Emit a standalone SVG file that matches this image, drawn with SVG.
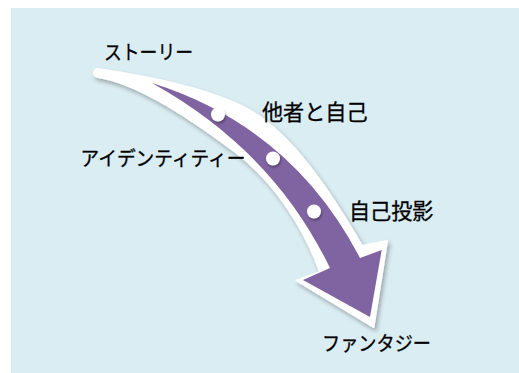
<svg xmlns="http://www.w3.org/2000/svg" width="519" height="373" viewBox="0 0 519 373">
<defs>
<style>
.lbl{font-family:"Noto Sans CJK JP","Noto Sans",sans-serif;fill:#000;stroke:#000;stroke-width:0.3px}
.k{font-size:20px}
.j{font-size:21.5px}
</style>
<filter id="sh" x="-20%" y="-20%" width="150%" height="150%">
<feDropShadow dx="2" dy="3" stdDeviation="2" flood-color="#000" flood-opacity="0.3"/>
</filter>
<filter id="dsh" x="-50%" y="-50%" width="200%" height="200%">
<feDropShadow dx="1" dy="2" stdDeviation="1.2" flood-color="#000" flood-opacity="0.35"/>
</filter>
</defs>
<rect x="11" y="8" width="508" height="365" fill="#DAEDF3"/>
<g id="connectors">
<path id="arrow-outline" filter="url(#sh)" fill="#fff" stroke="#fff" stroke-width="2" stroke-linejoin="round"
 d="M98,69 Q217.5,86.9 260,116.7 C300,144.7 335,200 362,246 L387,241 L373.5,327 L296.5,280.5 L320,272 C306,232 276.7,183.4 236.7,153 Q146.2,84.3 98,77 A4,4 0 0 1 98,69 Z"/>
<path id="arrow" fill="#8064A2" d="M152,83 Q292,127 360,258 L381.7,250 L370,317 L303,280 L330,268 C297,200 244,134.3 152,83 Z"/>
</g>
<g id="dot1"><circle cx="218" cy="114.5" r="7" fill="#fff" filter="url(#dsh)"/></g>
<g id="dot2"><circle cx="273" cy="158.5" r="7" fill="#fff" filter="url(#dsh)"/></g>
<g id="dot3"><circle cx="314" cy="211.5" r="7" fill="#fff" filter="url(#dsh)"/></g>
<g id="story"><text class="lbl k" x="104" y="59.5" textLength="89" lengthAdjust="spacingAndGlyphs">ストーリー</text></g>
<g id="other-self"><text class="lbl j" x="262" y="120" textLength="105.5" lengthAdjust="spacingAndGlyphs">他者と自己</text></g>
<g id="identity"><text class="lbl k" x="80.5" y="166" textLength="165" lengthAdjust="spacingAndGlyphs">アイデンティティー</text></g>
<g id="projection"><text class="lbl j" x="349" y="218.5" textLength="84.5" lengthAdjust="spacingAndGlyphs">自己投影</text></g>
<g id="fantasy"><text class="lbl k" x="322" y="351" textLength="109" lengthAdjust="spacingAndGlyphs">ファンタジー</text></g>
</svg>
